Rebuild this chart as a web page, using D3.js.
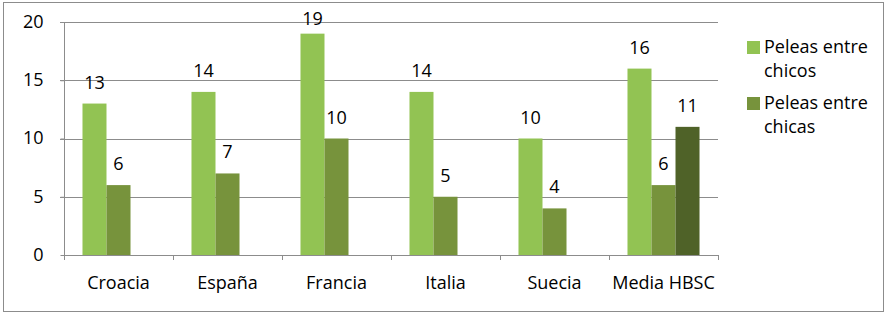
<!DOCTYPE html>
<html>
<head>
<meta charset="utf-8">
<script src="https://cdn.jsdelivr.net/npm/d3@7"></script>
<style>
  body { margin: 0; background: #fff; }
  svg text { font-family: "Open Sans", sans-serif; fill: #000; }
</style>
</head>
<body>
<svg id="chart" width="887" height="316"></svg>
<script>
const categories = ["Croacia", "España", "Francia", "Italia", "Suecia", "Media HBSC"];
const seriesNames = ["Peleas entre chicos", "Peleas entre chicas", ""];
const chicos = [13, 14, 19, 14, 10, 16];
const chicas = [6, 7, 10, 5, 4, 6];
const extra = [null, null, null, null, null, 11];
const yTicks = [0, 5, 10, 15, 20];
const colors = ["#92C353", "#77933C", "#4F6228"];
const legendLines = [["Peleas entre", "chicos"], ["Peleas entre", "chicas"]];

(function () {
const FONT = "'Open Sans', sans-serif";
const FS = 18;
const series = [chicos, chicas, extra];
const svg = d3.select("#chart");

// outer frame
svg.append("rect").attr("x", 3.5).attr("y", 2.5).attr("width", 880).attr("height", 309)
  .attr("fill", "#fff").attr("stroke", "#8c8c8c").attr("stroke-width", 1);

const pLeft = 64, pRight = 718, pTop = 22, pBottom = 255;
const x = d3.scaleBand().domain(categories).range([pLeft, pRight]).paddingInner(0).paddingOuter(0);
const y = d3.scaleLinear().domain([0, 20]).range([pBottom, pTop]);
const x1 = d3.scaleBand().domain([0, 1, 2]).range([0, x.bandwidth()]).paddingInner(0).paddingOuter(0.77);

// gridlines
svg.append("g").selectAll("line").data(yTicks.filter(d => d > 0)).join("line")
  .attr("x1", pLeft - 4).attr("x2", pRight)
  .attr("y1", d => Math.round(y(d)) + 0.5).attr("y2", d => Math.round(y(d)) + 0.5)
  .attr("stroke", "#8c8c8c").attr("stroke-width", 1);

// y axis
const yAxis = svg.append("g").attr("transform", `translate(${pLeft + 0.5},0)`)
  .call(d3.axisLeft(y).tickValues(yTicks).tickSize(4).tickPadding(17));
yAxis.select(".domain").attr("stroke", "#8c8c8c").attr("d", `M0,${pTop}V${pBottom}`);
yAxis.selectAll(".tick line").attr("stroke", "#8c8c8c");
yAxis.selectAll(".tick text").attr("font-size", FS).attr("font-family", FONT).attr("dy", "0.3em").attr("fill", "#000");

// bars
const groups = svg.append("g").selectAll("g").data(series).join("g").attr("fill", (d, i) => colors[i]);
groups.selectAll("rect").data((s, si) => s.map((v, ci) => ({ v, ci, si })).filter(d => d.v != null)).join("rect")
  .attr("x", d => x(categories[d.ci]) + x1(d.si))
  .attr("width", x1.bandwidth())
  .attr("y", d => y(d.v))
  .attr("height", d => y(0) - y(d.v));

// labels
groups.selectAll("text").data((s, si) => s.map((v, ci) => ({ v, ci, si })).filter(d => d.v != null)).join("text")
  .attr("x", d => x(categories[d.ci]) + x1(d.si) + x1.bandwidth() / 2)
  .attr("y", d => Math.max(y(d.v) - 15, 25))
  .attr("text-anchor", "middle").attr("font-size", FS).attr("fill", "#000")
  .text(d => d.v);

// x axis
const xAxis = svg.append("g").attr("transform", `translate(0,${pBottom + 0.5})`)
  .call(d3.axisBottom(x).tickSize(0).tickPadding(0));
xAxis.select(".domain").attr("stroke", "#8c8c8c").attr("d", `M${pLeft},0H${pRight}`);
xAxis.selectAll(".tick text").attr("font-size", FS).attr("font-family", FONT).attr("y", 33).attr("dy", 0).attr("fill", "#000");
svg.append("g").selectAll("line").data(d3.range(categories.length + 1)).join("line")
  .attr("x1", i => Math.round(pLeft + i * x.bandwidth()) + 0.5)
  .attr("x2", i => Math.round(pLeft + i * x.bandwidth()) + 0.5)
  .attr("y1", pBottom).attr("y2", pBottom + 5)
  .attr("stroke", "#8c8c8c");

// legend
const legend = svg.append("g").selectAll("g").data(legendLines).join("g")
  .attr("transform", (d, i) => `translate(747,${41 + i * 56})`);
legend.append("rect").attr("width", 13).attr("height", 13).attr("fill", (d, i) => colors[i]);
legend.append("text").attr("x", 17).attr("y", 12).attr("font-size", FS)
  .selectAll("tspan").data(d => d).join("tspan")
  .attr("x", 17).attr("dy", (d, i) => i === 0 ? 0 : 24).text(d => d);
})();
</script>
</body>
</html>
